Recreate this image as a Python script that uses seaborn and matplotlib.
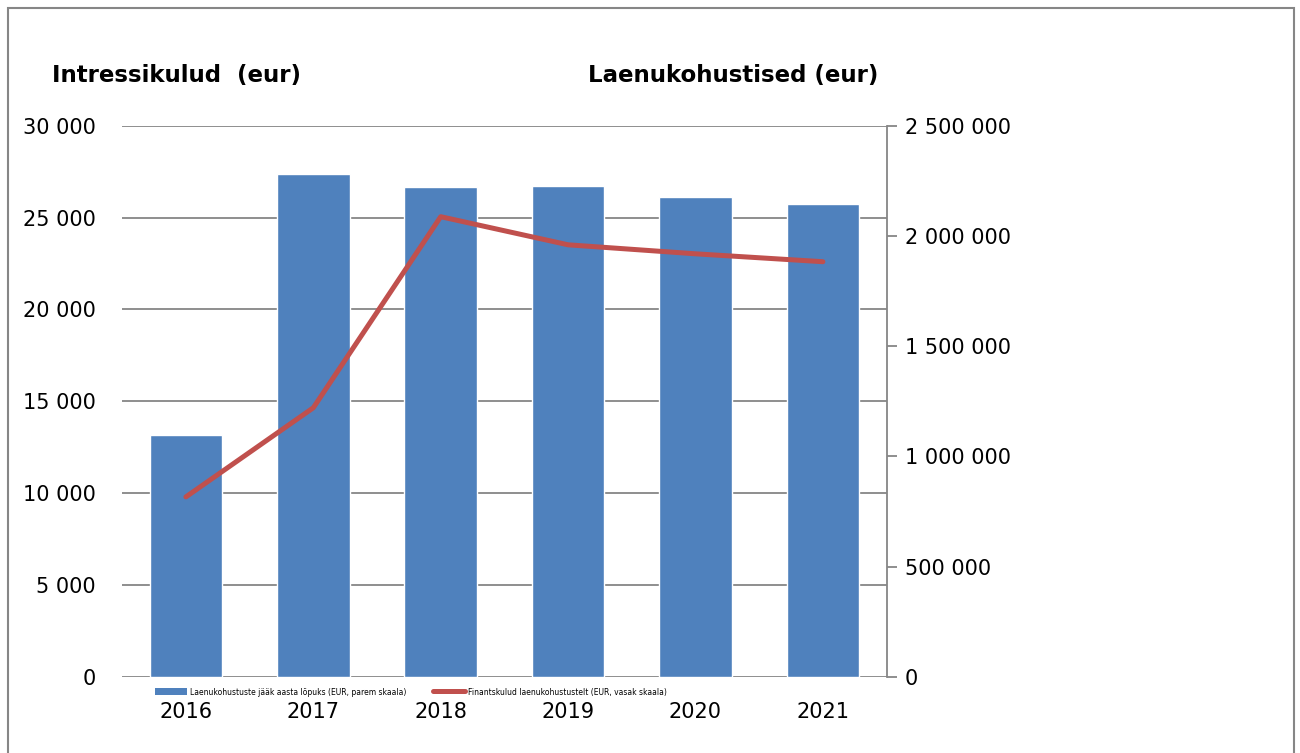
import matplotlib
matplotlib.use("Agg")
import matplotlib.pyplot as plt
import matplotlib.ticker as mticker
import seaborn as sns
import pandas as pd
from matplotlib.patches import Rectangle, Patch

years = ["2016", "2017", "2018", "2019", "2020", "2021"]
laenud = [1098000, 2282000, 2223000, 2228000, 2178000, 2146000]
intressid = [9800, 14650, 25050, 23520, 23030, 22600]

bar_label = "Laenukohustuste jääk aasta lõpuks (EUR, parem skaala)"
line_label = "Finantskulud laenukohustustelt (EUR, vasak skaala)"

df = pd.DataFrame({"aasta": years, "laen": laenud, "intress": intressid})

sns.set_style("white")
plt.rcParams["font.family"] = ["DejaVu Sans"]
plt.rcParams["text.color"] = "black"
plt.rcParams["xtick.color"] = "black"
plt.rcParams["ytick.color"] = "black"

def spaced(x, pos):
    return f"{int(x):,}".replace(",", " ")

fig = plt.figure(figsize=(13, 7.53), dpi=100)
ax = fig.add_axes([0.094, 0.101, 0.588, 0.732])

# vasak skaala: ruudustik ja märgid
ax.set_ylim(0, 30000)
ax.set_xlim(-0.5, 5.5)
ax.yaxis.set_major_locator(mticker.MultipleLocator(5000))
ax.yaxis.set_major_formatter(mticker.FuncFormatter(spaced))
ax.grid(axis="y", color="#868686", lw=1.3)
ax.set_axisbelow(True)
for s in ax.spines.values():
    s.set_visible(False)
ax.tick_params(axis="y", length=0, labelsize=15, pad=19)
ax.tick_params(axis="x", length=0, labelsize=15, pad=18)

# tulbad paremal skaalal
ax2 = ax.twinx()
sns.barplot(data=df, x="aasta", y="laen", color="#4f81bd", saturation=1,
            width=0.57, ax=ax2)
ax2.set_ylim(0, 2500000)
ax2.set_xlim(-0.5, 5.5)
ax2.yaxis.set_major_locator(mticker.MultipleLocator(500000))
ax2.yaxis.set_major_formatter(mticker.FuncFormatter(spaced))
ax2.set_ylabel("")
ax2.set_xlabel("")
for s in ["top", "left", "bottom"]:
    ax2.spines[s].set_visible(False)
ax2.spines["right"].set_color("#868686")
ax2.spines["right"].set_linewidth(1.3)
ax2.tick_params(axis="y", right=True, direction="out", length=7, width=1.3,
                color="#868686", labelsize=15, pad=6)

# joon vasakul skaalal, pealmine
ax3 = ax.twinx()
sns.lineplot(data=df, x="aasta", y="intress", color="#c0504d", lw=3.6,
             ax=ax3, label=line_label, sort=False)
ax3.set_ylim(0, 30000)
ax3.set_xlim(-0.5, 5.5)
ax3.set_yticks([])
ax3.set_ylabel("")
ax3.set_xlabel("")
for s in ax3.spines.values():
    s.set_visible(False)
ax3.get_legend().remove()

ax.set_xticks(range(len(years)))
ax.set_xticklabels(years)
ax2.tick_params(axis="x", bottom=False, labelbottom=False)
ax3.tick_params(axis="x", bottom=False, labelbottom=False)

h2, l2 = ax3.get_legend_handles_labels()
h1 = [Patch(facecolor="#4f81bd", edgecolor="none")]
fig.legend(h1 + h2, [bar_label] + l2, ncol=2, loc="center",
           bbox_to_anchor=(0.316, 0.081), frameon=False, fontsize=5.5,
           handlelength=4.2, handleheight=1.0, columnspacing=3.5,
           handletextpad=0.4)

fig.text(0.04, 0.9, "Intressikulud  (eur)", fontsize=16.5, fontweight="bold",
         va="center")
fig.text(0.676, 0.9, "Laenukohustised (eur)", fontsize=16.5, fontweight="bold",
         va="center", ha="right")

fig.add_artist(Rectangle((0.0065, -0.02), 0.9885, 1.009, transform=fig.transFigure,
                         fill=False, edgecolor="#868686", lw=1.5))

fig.savefig("out.png", dpi=100)
